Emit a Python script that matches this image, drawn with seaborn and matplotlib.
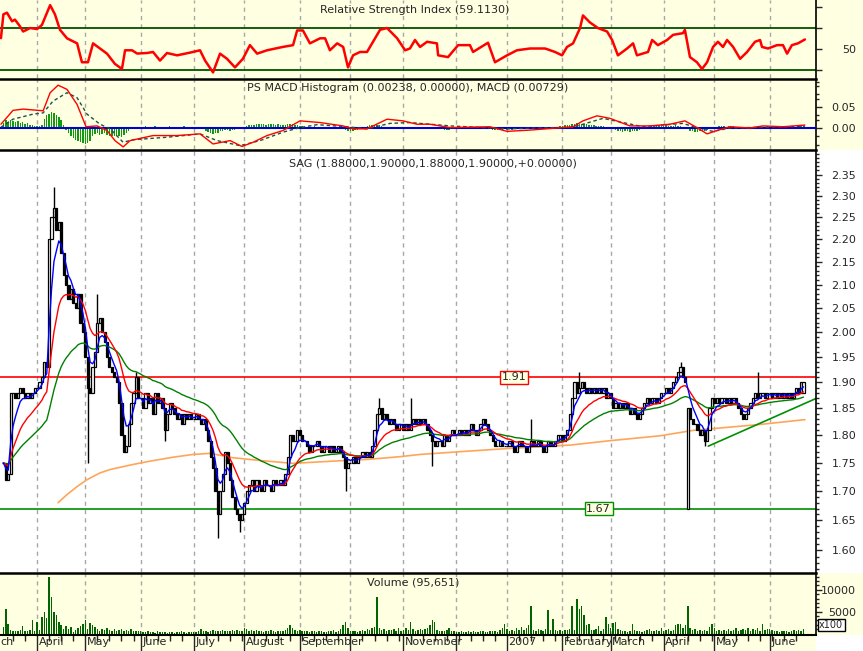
import numpy as np
import pandas as pd
import matplotlib
matplotlib.use("Agg")
import matplotlib.pyplot as plt
import seaborn as sns
from matplotlib.ticker import FixedLocator, NullFormatter, FormatStrFormatter
from matplotlib.patches import Rectangle

# daily closes, 2006-03-14 .. 2007-06-21 (one line per month)
closes = (
    [1.75, 1.72, 1.73, 1.88, 1.88, 1.87, 1.88, 1.89, 1.88, 1.87, 1.88, 1.87, 1.88, 1.89]
    + [1.89, 1.90, 1.91, 1.94, 1.93, 2.20, 2.25, 2.27, 2.22, 2.24, 2.17, 2.12, 2.10, 2.07, 2.09, 2.06, 2.05, 2.08, 2.02, 2.00]
    + [1.95, 1.89, 1.88, 1.93, 1.96, 2.02, 2.03, 2.00, 1.98, 1.95, 1.93, 1.92, 1.91, 1.90, 1.86, 1.80, 1.77, 1.78, 1.82, 1.86, 1.88, 1.91, 1.87]
    + [1.87, 1.85, 1.88, 1.86, 1.87, 1.84, 1.88, 1.86, 1.87, 1.85, 1.81, 1.84, 1.86, 1.85, 1.84, 1.83, 1.84, 1.82, 1.84, 1.83, 1.84, 1.83]
    + [1.83, 1.84, 1.83, 1.82, 1.83, 1.81, 1.79, 1.76, 1.74, 1.70, 1.66, 1.70, 1.73, 1.77, 1.75, 1.72, 1.69, 1.67, 1.66, 1.65, 1.66]
    + [1.68, 1.70, 1.71, 1.72, 1.70, 1.72, 1.71, 1.70, 1.72, 1.71, 1.71, 1.70, 1.72, 1.71, 1.71, 1.72, 1.71, 1.73, 1.76, 1.80, 1.79, 1.79, 1.81]
    + [1.80, 1.79, 1.79, 1.78, 1.77, 1.78, 1.78, 1.79, 1.78, 1.77, 1.78, 1.78, 1.77, 1.78, 1.77, 1.77, 1.78, 1.77, 1.76, 1.74, 1.75]
    + [1.75, 1.76, 1.75, 1.76, 1.76, 1.77, 1.76, 1.77, 1.76, 1.78, 1.81, 1.84, 1.85, 1.83, 1.84, 1.83, 1.82, 1.83, 1.82, 1.81, 1.82, 1.82]
    + [1.81, 1.82, 1.81, 1.82, 1.83, 1.82, 1.83, 1.82, 1.83, 1.82, 1.81, 1.80, 1.79, 1.78, 1.79, 1.79, 1.78, 1.80, 1.79, 1.80, 1.81, 1.80]
    + [1.80, 1.81, 1.80, 1.81, 1.80, 1.81, 1.82, 1.81, 1.80, 1.81, 1.82, 1.83, 1.82, 1.81, 1.80, 1.79, 1.78, 1.78, 1.79, 1.78, 1.78]
    + [1.78, 1.79, 1.78, 1.77, 1.78, 1.79, 1.78, 1.78, 1.77, 1.78, 1.79, 1.78, 1.78, 1.79, 1.78, 1.77, 1.78, 1.79, 1.78, 1.78, 1.79, 1.80, 1.80]
    + [1.79, 1.80, 1.81, 1.84, 1.87, 1.90, 1.88, 1.89, 1.90, 1.89, 1.88, 1.89, 1.88, 1.89, 1.88, 1.89, 1.88, 1.89, 1.87, 1.88]
    + [1.87, 1.85, 1.86, 1.85, 1.86, 1.85, 1.86, 1.85, 1.84, 1.85, 1.84, 1.83, 1.84, 1.85, 1.86, 1.87, 1.86, 1.87, 1.87, 1.86, 1.87, 1.88]
    + [1.88, 1.89, 1.88, 1.89, 1.90, 1.91, 1.92, 1.93, 1.91, 1.90, 1.85, 1.83, 1.82, 1.82, 1.81, 1.80, 1.81, 1.79, 1.81, 1.85, 1.87]
    + [1.86, 1.87, 1.86, 1.87, 1.87, 1.86, 1.87, 1.86, 1.87, 1.86, 1.85, 1.84, 1.83, 1.84, 1.85, 1.86, 1.87, 1.88, 1.87, 1.88, 1.88, 1.87, 1.88]
    + [1.88, 1.87, 1.88, 1.87, 1.88, 1.87, 1.88, 1.87, 1.88, 1.87, 1.88, 1.89, 1.88, 1.90, 1.90]
)

# daily volume (x100 shares)
volumes = (
    [1500, 5700, 2300, 900, 700, 500, 600, 800, 1700, 600, 500, 900, 3200, 700]
    + [2700, 900, 3800, 4900, 3600, 12900, 8300, 4900, 4200, 2700, 1900, 1100, 1700, 1100, 1500, 400, 800, 1400, 1700, 2300]
    + [3200, 1100, 2400, 1900, 1500, 1100, 700, 1100, 900, 1400, 900, 700, 1000, 600, 800, 1100, 700, 900, 600, 1000, 700, 500, 600]
    + [500, 300, 400, 600, 300, 400, 200, 500, 300, 400, 300, 200, 400, 300, 200, 400, 300, 500, 300, 200, 400, 300]
    + [300, 400, 600, 1100, 500, 700, 400, 600, 800, 700, 500, 600, 900, 700, 500, 600, 800, 700, 900, 600, 700]
    + [1400, 1100, 700, 900, 600, 800, 500, 600, 400, 700, 500, 800, 600, 400, 700, 500, 600, 900, 1300, 1900, 1400, 800, 700]
    + [900, 700, 500, 600, 400, 500, 600, 400, 500, 700, 400, 300, 500, 600, 800, 400, 500, 1000, 1900, 2700, 1400]
    + [600, 500, 700, 400, 500, 900, 600, 1100, 800, 1400, 1500, 8300, 1300, 900, 1100, 700, 900, 800, 1100, 600, 1300, 700]
    + [800, 1200, 900, 2700, 1100, 600, 800, 1000, 900, 1100, 1300, 2000, 3000, 2700, 900, 700, 500, 600, 800, 1300, 600, 500]
    + [400, 300, 500, 400, 300, 600, 400, 500, 300, 400, 700, 500, 400, 300, 600, 500, 700, 400, 900, 1200, 2300]
    + [1100, 700, 900, 600, 1300, 800, 1500, 900, 1200, 1900, 6400, 900, 700, 1000, 800, 700, 1100, 5300, 900, 3300, 900, 700, 900]
    + [700, 800, 900, 1100, 6400, 900, 8000, 5500, 6400, 4200, 2000, 2300, 800, 900, 1100, 1700, 700, 1000, 3800, 2300]
    + [1200, 2400, 2700, 1100, 800, 500, 700, 400, 500, 2300, 900, 700, 500, 400, 600, 800, 1000, 500, 700, 900, 600, 1200]
    + [600, 800, 1000, 700, 900, 1900, 2300, 2100, 1300, 1900, 6400, 1300, 900, 1100, 700, 900, 600, 800, 700, 1500, 2100]
    + [1200, 700, 900, 500, 800, 600, 1000, 700, 900, 1200, 600, 800, 1100, 900, 1200, 700, 1100, 900, 1300, 700, 2100, 900, 1100]
    + [1100, 900, 500, 700, 400, 600, 500, 700, 400, 600, 900, 700, 800, 600, 956]
)

# MACD histogram per day (units of 0.001)
macd_hist = (
    [12, 18, 15, 20, 16, 14, 17, 12, 15, 10, 13, 8, 6, 5]
    + [5, 4, 7, 22, 30, 34, 37, 35, 30, 26, 18, 8, -5, -12, -18, -24, -28, -30, -33, -36]
    + [-37, -35, -30, -20, -15, -12, -16, -14, -13, -17, -19, -20, -18, -16, -19, -21, -17, -12, -6, -2, 1, 2, 3]
    + [3, 2, 4, 3, 2, 3, 4, 2, 3, 1, 2, 3, 4, 3, 2, 3, 2, 3, 4, 2, 1, 2]
    + [1, 2, 1, 0, -2, -6, -10, -12, -14, -13, -11, -8, -6, -4, -5, -6, -5, -4, -3, -2, -1]
    + [2, 4, 6, 7, 8, 9, 9, 10, 9, 8, 9, 10, 9, 8, 9, 8, 7, 8, 9, 10, 9, 8, 7]
    + [5, 4, 3, 3, 2, 3, 4, 3, 2, 3, 2, 3, 2, 1, 2, 1, 0, -1, -3, -5, -6]
    + [-7, -6, -5, -4, -3, -1, 2, 4, 6, 7, 8, 7, 6, 4, 3, 2, 1, 0, 1, -1, 0, 1]
    + [2, 1, 2, 3, 2, 1, 0, 1, 2, 1, 0, -1, 0, 1, 0, -1, -2, -4, -5, -4, -3, -1]
    + [1, 2, 2, 1, 2, 3, 2, 1, 2, 1, 2, 1, 0, -1, -2, -4, -5, -4, -5, -4, -3]
    + [-4, -3, -4, -3, -2, -3, -2, -1, 0, 1, 2, 1, 2, 1, 2, 1, 2, 1, 0, 1, 2, 3, 4]
    + [5, 6, 7, 8, 9, 10, 11, 10, 9, 10, 9, 8, 7, 6, 5, 4, 5, 4, 3, 2]
    + [0, -2, -5, -7, -8, -9, -8, -7, -9, -8, -7, -6, -5, -3, -1, 1, 3, 4, 5, 5, 6, 5]
    + [5, 6, 5, 4, 5, 6, 5, 4, 3, 2, -2, -6, -8, -10, -9, -8, -7, -6, -4, -2, 0]
    + [2, 3, 4, 5, 4, 3, 4, 5, 4, 3, 2, 1, 0, -1, 1, 2, 3, 2, 4, 3, 2, 3, 4]
    + [3, 2, 3, 4, 3, 2, 3, 2, 3, 4, 3, 2, 3, 4, 2.4]
)

# MACD and signal lines
macd_idx = [-1.0, 4.0, 8.2, 16.5, 19.4, 22.7, 26.4, 30.6, 34.3, 38.9, 43.0, 46.3, 49.7, 52.6,
            62.1, 72.1, 81.6, 87.0, 94.1, 99.0, 103.6, 109.4, 116.0, 123.1, 131.4, 140.9,
            145.1, 150.9, 159.2, 165.8, 171.6, 177.0, 185.4, 201.9, 209.0, 218.5, 229.7,
            236.4, 240.5, 246.3, 251.7, 260.0, 268.3, 276.6, 282.8, 287.8, 292.0, 296.1,
            301.5, 309.8, 315.2, 323.5, 332.6]
macd_val = [0.009, 0.042, 0.045, 0.041, 0.084, 0.102, 0.092, 0.056, 0.003, 0.005, -0.006,
            -0.030, -0.045, -0.030, -0.018, -0.018, -0.014, -0.038, -0.030, -0.044, -0.034,
            -0.018, -0.006, 0.017, 0.013, 0.005, -0.002, -0.002, 0.021, 0.017, 0.009, 0.009,
            0.001, 0.003, -0.008, -0.005, 0.0, 0.003, 0.017, 0.029, 0.023, 0.005, 0.005,
            0.009, 0.017, 0.001, -0.014, -0.006, 0.003, 0.0, 0.005, 0.003, 0.007]
signal_idx = [-1.0, 4.0, 12.3, 16.5, 20.6, 26.4, 30.6, 34.7, 40.1, 44.3, 49.7, 53.8, 67.9,
              81.6, 88.7, 98.2, 106.5, 116.0, 123.1, 130.2, 142.6, 150.9, 160.4, 168.7,
              185.4, 209.0, 236.4, 248.8, 257.1, 265.4, 282.0, 289.1, 294.5, 301.5, 332.6]
signal_val = [0.002, 0.021, 0.033, 0.036, 0.064, 0.084, 0.072, 0.033, 0.009, -0.002, -0.034,
              -0.028, -0.022, -0.014, -0.030, -0.042, -0.030, -0.010, 0.001, 0.008, 0.003,
              -0.002, 0.011, 0.013, 0.005, -0.002, 0.002, 0.023, 0.013, 0.003, 0.011, -0.002,
              -0.008, 0.0, 0.004]

# RSI line
rsi_idx = [-1.0, 0.0, 1.5, 3.6, 4.8, 6.9, 8.2, 11.1, 14.0, 16.0, 18.1, 19.4, 21.4, 23.5, 26.4,
           30.6, 32.6, 35.1, 37.2, 40.1, 43.0, 46.3, 49.2, 50.5, 53.4, 55.5, 59.6, 62.1, 65.0,
           67.9, 72.1, 77.5, 81.6, 83.7, 87.0, 89.9, 92.8, 96.1, 99.4, 102.3, 105.3, 109.4,
           116.0, 120.2, 121.9, 124.3, 127.2, 131.4, 133.5, 135.5, 138.5, 141.0, 143.0, 145.1,
           148.0, 150.9, 153.0, 156.3, 159.2, 163.4, 166.7, 168.7, 170.8, 172.9, 175.8, 179.9,
           180.4, 184.5, 188.7, 193.6, 194.9, 201.1, 204.0, 209.0, 213.1, 218.5, 224.8, 228.9,
           231.8, 233.9, 236.4, 239.3, 240.5, 243.4, 246.7, 250.5, 252.6, 255.0, 258.8, 261.3,
           262.9, 267.5, 269.2, 271.6, 275.4, 277.9, 282.0, 282.8, 284.9, 287.8, 289.9, 292.0,
           294.5, 296.5, 298.6, 300.3, 302.8, 305.7, 308.6, 311.9, 314.0, 314.8, 317.3, 321.0,
           323.5, 325.2, 327.2, 329.7, 332.6]
rsi_val = [60.4, 83.0, 84.6, 76.4, 78.0, 71.6, 66.7, 70.0, 69.0, 73.0, 84.6, 91.8, 83.0, 68.3,
           60.2, 55.4, 37.4, 37.4, 55.4, 50.5, 45.6, 35.8, 31.0, 48.8, 48.8, 45.7, 46.2, 47.2,
           39.0, 46.2, 44.0, 46.6, 48.8, 39.0, 27.7, 45.6, 40.7, 32.5, 40.7, 53.7, 45.6, 48.8,
           52.0, 53.7, 67.7, 67.7, 55.4, 60.2, 60.2, 48.8, 55.4, 52.0, 32.5, 44.0, 47.2, 47.2,
           55.4, 68.3, 70.0, 60.2, 48.8, 50.5, 58.6, 52.0, 56.9, 55.4, 44.0, 42.3, 53.7, 53.7,
           47.2, 56.0, 37.4, 44.0, 48.8, 50.5, 50.5, 47.2, 44.0, 52.0, 55.4, 70.0, 82.0, 75.3,
           70.0, 66.7, 58.6, 44.0, 50.5, 55.4, 44.0, 47.2, 58.6, 53.7, 58.6, 63.5, 65.1, 68.3,
           42.3, 37.4, 31.0, 37.4, 52.0, 56.9, 52.0, 58.6, 52.0, 40.7, 47.2, 56.9, 58.6, 52.0,
           50.5, 53.7, 53.7, 45.6, 53.7, 55.4, 59.1]

# candles whose open is not the previous close
open_fix_idx = [284, 332]
open_fix_val = [1.67, 1.88]

# notable wicks
spike_hi_idx = [21, 39, 55, 156, 169, 219, 239, 281, 313]
spike_hi_val = [2.32, 2.08, 1.92, 1.87, 1.87, 1.83, 1.92, 1.94, 1.92]
spike_lo_idx = [35, 67, 89, 98, 142, 178, 291]
spike_lo_val = [1.75, 1.79, 1.62, 1.63, 1.70, 1.745, 1.78]

# long moving average (orange)
ma_long_idx = [22.7, 26.4, 30.6, 34.7, 40.1, 44.3, 53.8, 60.9, 70.4, 78.7, 85.8, 95.3, 109.4,
               120.2, 136.8, 150.9, 164.6, 172.9, 189.5, 210.2, 235.2, 251.7, 272.5, 286.2,
               314.0, 332.6]
ma_long_val = [1.680, 1.694, 1.708, 1.720, 1.732, 1.738, 1.747, 1.753, 1.760, 1.765, 1.767,
               1.759, 1.753, 1.749, 1.753, 1.756, 1.761, 1.765, 1.770, 1.776, 1.782, 1.790,
               1.799, 1.809, 1.820, 1.829]

trend_idx = [292.5, 337.2]
trend_val = [1.78, 1.869]

level_hi = 1.91
level_lo = 1.67

month_names = ["April", "May", "June", "July", "August", "September", "", "November",
               "", "2007", "February", "March", "April", "May", "June"]

YELLOW = "#FFFFE1"
W, H = 863, 651

sns.set_style("white")
plt.rcParams["font.family"] = ["DejaVu Sans"]
plt.rcParams["font.size"] = 8

dates = pd.bdate_range("2006-03-14", "2007-06-21")
df = pd.DataFrame({"date": dates, "close": closes, "volume": volumes,
                   "hist": np.array(macd_hist) / 1000})
df["x"] = np.arange(len(df))
df["open"] = df["close"].shift(1).fillna(df["close"])
df.loc[open_fix_idx, "open"] = open_fix_val
df["high"] = df[["open", "close"]].max(axis=1)
df["low"] = df[["open", "close"]].min(axis=1)
df.loc[spike_hi_idx, "high"] = spike_hi_val
df.loc[spike_lo_idx, "low"] = spike_lo_val

df["ma_fast"] = df["close"].ewm(span=5, adjust=False).mean()
df["ma_mid"] = df["close"].ewm(span=15, adjust=False).mean()
df["ma_slow"] = df["close"].ewm(span=40, adjust=False).mean()

month_starts = list(df.index[(df["date"].dt.month != df["date"].dt.month.shift()) & (df.index > 0)])
week_starts = [i for i in df.index[df["date"].dt.weekday == 0] if i not in month_starts]

fig = plt.figure(figsize=(W / 100, H / 100), dpi=100, facecolor=YELLOW)
fig.patches.append(Rectangle((816 / W, 1 - 572 / H), 47 / W, 422 / H, transform=fig.transFigure,
                             color="white", zorder=-10))
fig.patches.append(Rectangle((816 / W, 0), 47 / W, 16 / H, transform=fig.transFigure,
                             color="white", zorder=-10))


def panel(top, bottom, face):
    ax = fig.add_axes([0, 1 - bottom / H, 816 / W, (bottom - top) / H])
    ax.set_facecolor(face)
    ax.set_xlim(-1.4, 337.2)
    for m in month_starts:
        ax.axvline(m, color="#a8a8a8", ls=(0, (3, 3)), lw=1, zorder=0.5)
    ax.spines["left"].set_visible(False)
    ax.spines["bottom"].set_visible(False)
    ax.spines["top"].set_linewidth(1.8)
    ax.spines["right"].set_linewidth(1.2)
    for s in ax.spines.values():
        s.set_color("black")
    ax.yaxis.tick_right()
    ax.set_xticks([])
    ax.tick_params(axis="y", which="major", length=4, width=1, pad=25, labelsize=8, direction="out")
    ax.tick_params(axis="y", which="minor", length=2.5, width=1, direction="out")
    return ax


ax_rsi = panel(0, 78, YELLOW)
ax_macd = panel(79, 149, YELLOW)
ax_px = panel(150, 572, "white")
ax_vol = panel(573, 635, YELLOW)
ax_rsi.spines["top"].set_visible(False)

# RSI
ax_rsi.axhline(70, color="#005000", lw=1.3, zorder=1)
ax_rsi.axhline(30, color="#005000", lw=1.3, zorder=1)
sns.lineplot(x=rsi_idx, y=rsi_val, color="#ff0000", lw=1.8, ax=ax_rsi)
ax_rsi.set_ylim(22.4, 96.7)
ax_rsi.set_yticks([30, 50, 70, 90], ["", "50", "", ""])
ax_rsi.text(0.508, 0.87, "Relative Strength Index (59.1130)", transform=ax_rsi.transAxes,
            ha="center", va="center", fontsize=8)

# MACD
ax_macd.bar(df["x"], df["hist"], width=0.6, color="#109a10", lw=0, zorder=2)
ax_macd.axhline(0, color="#0000d0", lw=1.5, zorder=3)
sns.lineplot(x=signal_idx, y=signal_val, color="#1f4f4f", lw=1, ax=ax_macd, zorder=4)
ax_macd.lines[-1].set_dashes((2.5, 2))
sns.lineplot(x=macd_idx, y=macd_val, color="#ff0000", lw=1, ax=ax_macd, zorder=5)
ax_macd.set_ylim(-0.05, 0.1167)
ax_macd.set_yticks([0.0, 0.05], ["0.00", "0.05"])
ax_macd.yaxis.set_minor_locator(FixedLocator([-0.04, -0.02, 0.02, 0.03, 0.07, 0.08, 0.1, 0.11]))
ax_macd.text(0.499, 0.87, "PS MACD Histogram (0.00238, 0.00000), MACD (0.00729)",
             transform=ax_macd.transAxes, ha="center", va="center", fontsize=8)

# price
ax_px.set_yscale("log")
ax_px.axhline(level_hi, color="#ff0000", lw=1.2, zorder=1)
ax_px.axhline(level_lo, color="#009000", lw=1.2, zorder=1)
sns.lineplot(x=ma_long_idx, y=ma_long_val, color="#ffa558", lw=1.2, ax=ax_px, zorder=2)
sns.lineplot(x=trend_idx, y=trend_val, color="#009000", lw=1.2, ax=ax_px, zorder=2)
ax_px.vlines(df["x"], df["low"], df["high"], color="black", lw=1, zorder=3)
up = df["close"] >= df["open"]
ax_px.bar(df["x"][up], (df["close"] - df["open"])[up], bottom=df["open"][up], width=0.9,
          facecolor="white", edgecolor="black", lw=0.9, zorder=4)
ax_px.bar(df["x"][~up], (df["open"] - df["close"])[~up], bottom=df["close"][~up], width=0.9,
          facecolor="black", edgecolor="black", lw=0.9, zorder=4)
sns.lineplot(data=df, x="x", y="ma_slow", color="#008000", lw=1, ax=ax_px, zorder=5)
sns.lineplot(data=df, x="x", y="ma_mid", color="#ff0000", lw=1, ax=ax_px, zorder=6)
sns.lineplot(data=df, x="x", y="ma_fast", color="#0000ff", lw=1, ax=ax_px, zorder=7)
ax_px.set_ylim(1.565, 2.41)
major = [round(1.60 + 0.05 * i, 2) for i in range(16)]
minor = [round(1.57 + 0.01 * i, 2) for i in range(84)]
ax_px.yaxis.set_major_locator(FixedLocator(major))
ax_px.yaxis.set_major_formatter(FormatStrFormatter("%.2f"))
ax_px.yaxis.set_minor_locator(FixedLocator(minor))
ax_px.yaxis.set_minor_formatter(NullFormatter())
ax_px.text(212, level_hi, "1.91", ha="center", va="center", fontsize=8, zorder=8,
           bbox=dict(boxstyle="square,pad=0.15", fc=YELLOW, ec="#ff0000", lw=1))
ax_px.text(247, level_lo, "1.67", ha="center", va="center", fontsize=8, zorder=8,
           bbox=dict(boxstyle="square,pad=0.15", fc=YELLOW, ec="#009000", lw=1))
ax_px.text(0.53, 0.969, "SAG (1.88000,1.90000,1.88000,1.90000,+0.00000)",
           transform=ax_px.transAxes, ha="center", va="center", fontsize=8)

# volume
ax_vol.bar(df["x"], df["volume"], width=0.6, color="#006400", lw=0, zorder=2)
ax_vol.set_ylim(-300, 13800)
ax_vol.set_yticks([5000, 10000], ["5000", "10000"])
ax_vol.yaxis.set_minor_locator(FixedLocator([1000 * k for k in range(1, 14) if k not in (5, 10)]))
ax_vol.spines["bottom"].set_visible(True)
ax_vol.spines["bottom"].set_linewidth(1.5)
ax_vol.spines["bottom"].set_color("black")
ax_vol.set_xticks(month_starts)
ax_vol.set_xticklabels([])
ax_vol.xaxis.set_minor_locator(FixedLocator(week_starts))
ax_vol.tick_params(axis="x", which="major", length=12, width=1, direction="out", bottom=True)
ax_vol.tick_params(axis="x", which="minor", length=4, width=1, direction="out", bottom=True)
for m, name in zip(month_starts, month_names):
    ax_vol.text(m + 0.6, -0.11, name, transform=ax_vol.get_xaxis_transform(),
                ha="left", va="center", fontsize=8, clip_on=False)
# the March label is cut by the left edge in the original, only its tail shows
ax_vol.text(-1.3, -0.11, "ch", transform=ax_vol.get_xaxis_transform(),
            ha="left", va="center", fontsize=8, clip_on=False)
ax_vol.text(0.506, 0.85, "Volume (95,651)", transform=ax_vol.transAxes,
            ha="center", va="center", fontsize=8)
fig.text(819 / W, 1 - 625 / H, "x100", fontsize=7, ha="left", va="center",
         bbox=dict(boxstyle="square,pad=0.15", fc="white", ec="black", lw=1))

for ax in (ax_rsi, ax_macd, ax_px, ax_vol):
    ax.set_xlabel("")
    ax.set_ylabel("")
    for lab in ax.get_yticklabels():
        lab.set_ha("right")

fig.savefig("out.png", dpi=100, facecolor=YELLOW)
